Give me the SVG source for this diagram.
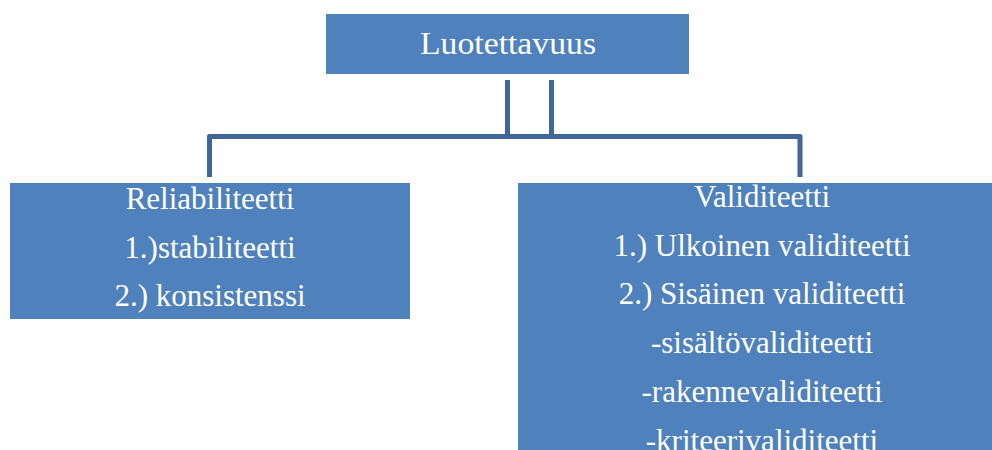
<svg xmlns="http://www.w3.org/2000/svg" width="992" height="450" viewBox="0 0 992 450">
<style>
.box{fill:#4F81BD;}
.t{font-family:"Liberation Serif","DejaVu Serif",serif;font-size:31px;fill:#FFFFFF;text-anchor:middle;}
.c{fill:none;stroke:#3F6797;stroke-width:5;stroke-linejoin:round;}
</style>
<rect width="992" height="450" fill="#FFFFFF"/>
<g id="connectors">
<path class="c" d="M507.5 80 V136.5 H551.5 V80"/>
<path class="c" d="M209.5 177 V136.5 H800 V177"/>
</g>
<g id="luotettavuus">
<rect class="box" x="326" y="14" width="363" height="60"/>
<text class="t" x="508" y="54" textLength="176" lengthAdjust="spacingAndGlyphs">Luotettavuus</text>
</g>
<g id="reliabiliteetti">
<rect class="box" x="10" y="183" width="400" height="136"/>
<text class="t" x="210" y="209">Reliabiliteetti</text>
<text class="t" x="210" y="258">1.)stabiliteetti</text>
<text class="t" x="210" y="306">2.) konsistenssi</text>
</g>
<g id="validiteetti">
<rect class="box" x="518" y="183" width="490" height="280"/>
<text class="t" x="762" y="207">Validiteetti</text>
<text class="t" x="762" y="256">1.) Ulkoinen validiteetti</text>
<text class="t" x="762" y="304">2.) Sisäinen validiteetti</text>
<text class="t" x="762" y="353">-sisältövaliditeetti</text>
<text class="t" x="762" y="402">-rakennevaliditeetti</text>
<text class="t" x="762" y="451">-kriteerivaliditeetti</text>
</g>
</svg>
